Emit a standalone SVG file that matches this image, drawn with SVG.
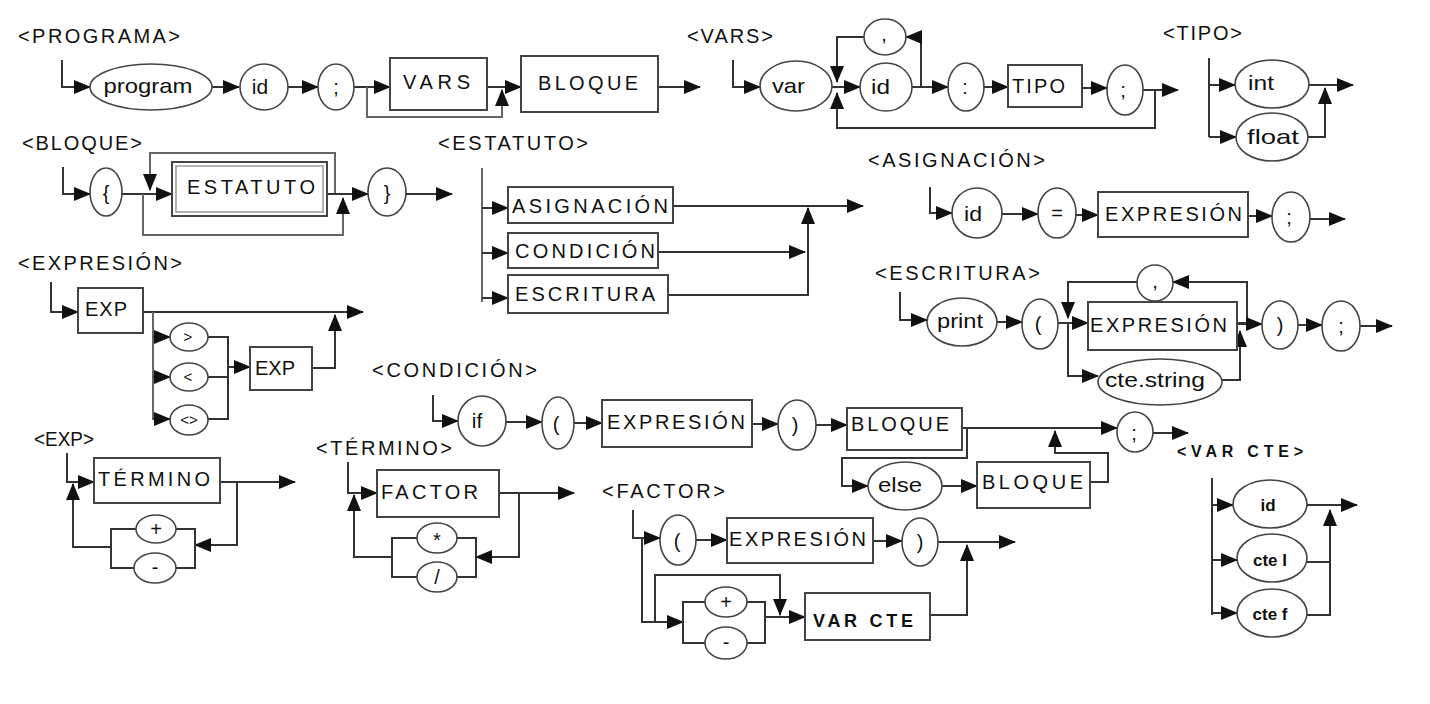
<svg xmlns="http://www.w3.org/2000/svg" width="1430" height="704" viewBox="0 0 1430 704">
<style>
.l{fill:none;stroke:#333;stroke-width:2}
.a{marker-end:url(#ah)}
ellipse{fill:#fff;stroke:#444;stroke-width:1.6}
rect{fill:#fff;stroke:#444;stroke-width:2}
rect.in{fill:none;stroke:#999;stroke-width:1.5}
text{font-family:"Liberation Sans",Arial,sans-serif;font-size:20px;fill:#111}
.m{text-anchor:middle}
.s{font-size:15px}
.b{font-weight:bold;font-size:16px}
.w{font-size:21px}
</style>
<defs>
<marker id="ah" viewBox="0 0 17 14" refX="16" refY="7" markerWidth="17" markerHeight="14" markerUnits="userSpaceOnUse" orient="auto"><path d="M0,0 L17,7 L0,14 z" fill="#111"/></marker>
</defs>
<rect x="0" y="0" width="1430" height="704" style="fill:#fff;stroke:none"/>

<g id="titles">
<text x="18" y="43" textLength="162">&lt;PROGRAMA&gt;</text>
<text x="687" y="43" textLength="86">&lt;VARS&gt;</text>
<text x="1163" y="40" textLength="79">&lt;TIPO&gt;</text>
<text x="22" y="150" textLength="120">&lt;BLOQUE&gt;</text>
<text x="438" y="150" textLength="150">&lt;ESTATUTO&gt;</text>
<text x="868" y="167" textLength="177">&lt;ASIGNACIÓN&gt;</text>
<text x="875" y="280" textLength="165">&lt;ESCRITURA&gt;</text>
<text x="18" y="270" textLength="164">&lt;EXPRESIÓN&gt;</text>
<text x="372" y="377" textLength="165">&lt;CONDICIÓN&gt;</text>
<text x="34" y="446" textLength="60" lengthAdjust="spacingAndGlyphs">&lt;EXP&gt;</text>
<text x="316" y="455" textLength="136">&lt;TÉRMINO&gt;</text>
<text x="602" y="498" textLength="123">&lt;FACTOR&gt;</text>
<text x="1177" y="457" textLength="126" class="b">&lt;VAR CTE&gt;</text>
</g>

<g id="connectors">
<!-- PROGRAMA -->
<path class="l a" d="M62,60 V87 H90"/>
<path class="l a" d="M212,87 H239"/>
<path class="l a" d="M288,87 H318"/>
<path class="l a" d="M354,87 H390"/>
<path class="l a" d="M367,87 V117 H502 V90" style="stroke:#666"/>
<path class="l a" d="M487,87 H521"/>
<path class="l a" d="M658,87 H700"/>
<!-- VARS -->
<path class="l a" d="M733,60 V87 H760"/>
<path class="l a" d="M832,87 H860"/>
<path class="l a" d="M912,87 H921 V37 H906"/>
<path class="l a" d="M864,37 H837 V82"/>
<path class="l a" d="M912,87 H948"/>
<path class="l a" d="M984,87 H1008"/>
<path class="l a" d="M1082,88 H1107"/>
<path class="l a" d="M1143,90 H1178"/>
<path class="l a" d="M1155,90 V128 H837 V93"/>
<!-- TIPO -->
<path class="l" d="M1209,58 V137"/>
<path class="l a" d="M1209,85 H1235"/>
<path class="l a" d="M1209,137 H1236"/>
<path class="l a" d="M1309,85 H1353"/>
<path class="l a" d="M1308,137 H1325 V88"/>
<!-- BLOQUE -->
<path class="l a" d="M63,167 V194 H90"/>
<path class="l a" d="M122,194 H172"/>
<path class="l a" d="M327,194 H335 V153 H150 V190" style="stroke:#666"/>
<path class="l a" d="M143,194 V235 H343 V198" style="stroke:#666"/>
<path class="l a" d="M327,194 H368"/>
<path class="l a" d="M406,194 H452"/>
<!-- ESTATUTO -->
<path class="l" d="M482,168 V302" style="stroke:#666"/>
<path class="l a" d="M482,208 H508"/>
<path class="l a" d="M482,253 H508"/>
<path class="l a" d="M482,298 H508"/>
<path class="l a" d="M673,206 H863"/>
<path class="l a" d="M658,252 H805"/>
<path class="l a" d="M668,295 H808 V208"/>
<!-- ASIGNACION -->
<path class="l a" d="M930,187 V213 H952"/>
<path class="l a" d="M1002,214 H1038"/>
<path class="l a" d="M1076,215 H1098"/>
<path class="l a" d="M1248,216 H1272"/>
<path class="l a" d="M1310,219 H1345"/>
<!-- ESCRITURA -->
<path class="l a" d="M900,292 V320 H927"/>
<path class="l a" d="M997,322 H1022"/>
<path class="l a" d="M1058,323 H1088"/>
<path class="l a" d="M1237,323 H1247 V282 H1173"/>
<path class="l a" d="M1137,282 H1068 V318"/>
<path class="l a" d="M1068,323 V376 H1098"/>
<path class="l a" d="M1222,380 H1240 V331"/>
<path class="l a" d="M1237,324 H1262"/>
<path class="l a" d="M1298,325 H1322"/>
<path class="l a" d="M1360,326 H1392"/>
<!-- EXPRESION -->
<path class="l a" d="M51,282 V312 H78"/>
<path class="l a" d="M143,312 H363"/>
<path class="l" d="M153,312 V420" style="stroke:#666"/>
<path class="l a" d="M153,337 H170"/>
<path class="l a" d="M153,377 H170"/>
<path class="l a" d="M153,419 H170"/>
<path class="l" d="M208,337 H228 V419 H208 M208,377 H228"/>
<path class="l a" d="M228,367 H250"/>
<path class="l a" d="M312,368 H335 V315"/>
<!-- CONDICION -->
<path class="l a" d="M433,395 V421 H458"/>
<path class="l a" d="M506,422 H542"/>
<path class="l a" d="M574,423 H602"/>
<path class="l a" d="M752,424 H778"/>
<path class="l a" d="M816,425 H847"/>
<path class="l a" d="M962,428 H1117"/>
<path class="l a" d="M967,428 V458 H842 V486 H868"/>
<path class="l a" d="M942,486 H977"/>
<path class="l a" d="M1090,482 H1108 V453 H1055 V431"/>
<path class="l a" d="M1153,433 H1188"/>
<!-- EXP -->
<path class="l a" d="M67,453 V482 H94"/>
<path class="l a" d="M220,482 H295"/>
<path class="l a" d="M237,482 V545 H195"/>
<path class="l" d="M176,529 H195 V568 H176"/>
<path class="l" d="M136,529 H111 V568 H134"/>
<path class="l a" d="M111,547 H73 V484"/>
<!-- TERMINO -->
<path class="l a" d="M348,462 V493 H377"/>
<path class="l a" d="M499,493 H574"/>
<path class="l a" d="M519,493 V557 H476"/>
<path class="l" d="M457,538 H476 V577 H457"/>
<path class="l" d="M417,538 H392 V577 H417"/>
<path class="l a" d="M392,557 H354 V495"/>
<!-- FACTOR -->
<path class="l a" d="M633,510 V538 H660"/>
<path class="l a" d="M642,538 V622 H683"/>
<path class="l a" d="M696,540 H727"/>
<path class="l a" d="M873,541 H902"/>
<path class="l a" d="M938,542 H1015"/>
<path class="l a" d="M930,615 H967 V545"/>
<path class="l" d="M705,602 H683 V643 H705"/>
<path class="l" d="M747,602 H765 V643 H747"/>
<path class="l a" d="M765,617 H805"/>
<path class="l a" d="M655,622 V575 H780 V615"/>
<!-- VAR CTE -->
<path class="l" d="M1212,478 V615"/>
<path class="l a" d="M1212,505 H1233"/>
<path class="l a" d="M1212,560 H1237"/>
<path class="l a" d="M1212,613 H1237"/>
<path class="l a" d="M1307,505 H1357"/>
<path class="l" d="M1307,562 H1330"/>
<path class="l a" d="M1307,615 H1330 V510"/>
</g>

<!-- PROGRAMA nodes -->
<g id="p-program"><ellipse cx="151" cy="87" rx="61" ry="23"/><text class="m w" x="148" y="93" textLength="89" lengthAdjust="spacingAndGlyphs">program</text></g>
<g id="p-id"><ellipse cx="264" cy="87" rx="24" ry="23"/><text class="m w" x="260" y="94">id</text></g>
<g id="p-semi"><ellipse cx="336" cy="87" rx="18" ry="23"/><text class="m" x="336" y="94">;</text></g>
<g id="p-vars"><rect x="390" y="58" width="97" height="52"/><text x="403" y="89" textLength="67">VARS</text></g>
<g id="p-bloque"><rect x="521" y="56" width="137" height="56"/><text x="538" y="90" textLength="100">BLOQUE</text></g>

<!-- VARS nodes -->
<g id="v-var"><ellipse cx="796" cy="86" rx="36" ry="25"/><text class="w" x="772" y="93" textLength="33" lengthAdjust="spacingAndGlyphs">var</text></g>
<g id="v-id"><ellipse cx="886" cy="87" rx="26" ry="24"/><text class="w" x="871" y="94" textLength="19" lengthAdjust="spacingAndGlyphs">id</text></g>
<g id="v-comma"><ellipse cx="885" cy="37" rx="21" ry="18"/><text class="m" x="884" y="41">,</text></g>
<g id="v-colon"><ellipse cx="966" cy="87" rx="18" ry="24"/><text class="m" x="965" y="94">:</text></g>
<g id="v-tipo"><rect x="1008" y="65" width="74" height="42"/><text x="1012" y="93" textLength="53">TIPO</text></g>
<g id="v-semi"><ellipse cx="1125" cy="90" rx="18" ry="25"/><text class="m" x="1123" y="97">;</text></g>

<!-- TIPO nodes -->
<g id="t-int"><ellipse cx="1272" cy="84" rx="37" ry="24"/><text class="w" x="1248" y="90" textLength="26" lengthAdjust="spacingAndGlyphs">int</text></g>
<g id="t-float"><ellipse cx="1272" cy="137" rx="36" ry="24"/><text class="w" x="1247" y="144" textLength="52" lengthAdjust="spacingAndGlyphs">float</text></g>

<!-- BLOQUE nodes -->
<g id="b-lbrace"><ellipse cx="106" cy="192" rx="16" ry="24"/><text class="m" x="106" y="200">{</text></g>
<g id="b-estatuto"><rect x="172" y="162" width="155" height="54"/><rect class="in" x="176" y="166" width="147" height="46"/><text x="187" y="194" textLength="128">ESTATUTO</text></g>
<g id="b-rbrace"><ellipse cx="387" cy="192" rx="19" ry="24"/><text class="m" x="387" y="200">}</text></g>

<!-- ESTATUTO nodes -->
<g id="e-asig"><rect x="508" y="187" width="165" height="36"/><text x="512" y="213" textLength="156">ASIGNACIÓN</text></g>
<g id="e-cond"><rect x="508" y="233" width="150" height="35"/><text x="515" y="258" textLength="140">CONDICIÓN</text></g>
<g id="e-escr"><rect x="508" y="275" width="160" height="38"/><text x="515" y="301" textLength="140">ESCRITURA</text></g>

<!-- ASIGNACION nodes -->
<g id="a-id"><ellipse cx="977" cy="213" rx="25" ry="25"/><text class="w" x="964" y="221" textLength="18" lengthAdjust="spacingAndGlyphs">id</text></g>
<g id="a-eq"><ellipse cx="1057" cy="213" rx="19" ry="25"/><text class="m" x="1057" y="220">=</text></g>
<g id="a-expr"><rect x="1098" y="192" width="150" height="45"/><text x="1105" y="221" textLength="137">EXPRESIÓN</text></g>
<g id="a-semi"><ellipse cx="1291" cy="217" rx="19" ry="25"/><text class="m" x="1289" y="224">;</text></g>

<!-- ESCRITURA nodes -->
<g id="w-print"><ellipse cx="962" cy="322" rx="35" ry="24"/><text class="w" x="937" y="328" textLength="46" lengthAdjust="spacingAndGlyphs">print</text></g>
<g id="w-lpar"><ellipse cx="1040" cy="324" rx="18" ry="25"/><text class="m" x="1038" y="331">(</text></g>
<g id="w-comma"><ellipse cx="1155" cy="283" rx="18" ry="18"/><text class="m" x="1155" y="288">,</text></g>
<g id="w-expr"><rect x="1088" y="302" width="149" height="48"/><text x="1090" y="332" textLength="137">EXPRESIÓN</text></g>
<g id="w-ctestring"><ellipse cx="1160" cy="382" rx="62" ry="23"/><text class="w" x="1105" y="387" textLength="100" lengthAdjust="spacingAndGlyphs">cte.string</text></g>
<g id="w-rpar"><ellipse cx="1280" cy="325" rx="18" ry="24"/><text class="m" x="1280" y="332">)</text></g>
<g id="w-semi"><ellipse cx="1341" cy="326" rx="19" ry="25"/><text class="m" x="1341" y="333">;</text></g>

<!-- EXPRESION nodes -->
<g id="x-exp1"><rect x="78" y="288" width="65" height="45"/><text x="85" y="316" textLength="42">EXP</text></g>
<g id="x-gt"><ellipse cx="189" cy="337" rx="19" ry="14"/><text class="m s" x="188" y="342">&gt;</text></g>
<g id="x-lt"><ellipse cx="189" cy="377" rx="19" ry="14"/><text class="m s" x="188" y="382">&lt;</text></g>
<g id="x-ne"><ellipse cx="189" cy="420" rx="19" ry="15"/><text class="m s" x="189" y="425">&lt;&gt;</text></g>
<g id="x-exp2"><rect x="250" y="347" width="62" height="43"/><text x="255" y="375" textLength="40">EXP</text></g>

<!-- CONDICION nodes -->
<g id="c-if"><ellipse cx="482" cy="421" rx="24" ry="25"/><text class="m w" x="477" y="428">if</text></g>
<g id="c-lpar"><ellipse cx="558" cy="423" rx="16" ry="26"/><text class="m" x="556" y="431">(</text></g>
<g id="c-expr"><rect x="602" y="400" width="150" height="47"/><text x="607" y="429" textLength="138">EXPRESIÓN</text></g>
<g id="c-rpar"><ellipse cx="797" cy="425" rx="19" ry="25"/><text class="m" x="795" y="432">)</text></g>
<g id="c-bloque1"><rect x="847" y="408" width="115" height="42"/><text x="851" y="431" textLength="98">BLOQUE</text></g>
<g id="c-else"><ellipse cx="905" cy="486" rx="37" ry="24"/><text class="w" x="878" y="492" textLength="44" lengthAdjust="spacingAndGlyphs">else</text></g>
<g id="c-bloque2"><rect x="977" y="462" width="113" height="46"/><text x="982" y="489" textLength="101">BLOQUE</text></g>
<g id="c-semi"><ellipse cx="1135" cy="432" rx="18" ry="20"/><text class="m" x="1134" y="440">;</text></g>

<!-- EXP nodes -->
<g id="ex-termino"><rect x="94" y="458" width="126" height="45"/><text x="98" y="486" textLength="112">TÉRMINO</text></g>
<g id="ex-plus"><ellipse cx="156" cy="529" rx="20" ry="14"/><text class="m" x="156" y="536">+</text></g>
<g id="ex-minus"><ellipse cx="155" cy="568" rx="21" ry="15"/><text class="m" x="155" y="574">-</text></g>

<!-- TERMINO nodes -->
<g id="tm-factor"><rect x="377" y="470" width="122" height="47"/><text x="381" y="499" textLength="97">FACTOR</text></g>
<g id="tm-mul"><ellipse cx="437" cy="538" rx="20" ry="15"/><text class="m" x="437" y="547">*</text></g>
<g id="tm-div"><ellipse cx="437" cy="577" rx="20" ry="15"/><text class="m" x="437" y="584">/</text></g>

<!-- FACTOR nodes -->
<g id="f-lpar"><ellipse cx="678" cy="540" rx="18" ry="25"/><text class="m" x="677" y="548">(</text></g>
<g id="f-expr"><rect x="727" y="518" width="146" height="45"/><text x="729" y="546" textLength="137">EXPRESIÓN</text></g>
<g id="f-rpar"><ellipse cx="920" cy="542" rx="18" ry="24"/><text class="m" x="920" y="549">)</text></g>
<g id="f-plus"><ellipse cx="726" cy="602" rx="21" ry="15"/><text class="m" x="726" y="609">+</text></g>
<g id="f-minus"><ellipse cx="726" cy="643" rx="21" ry="16"/><text class="m" x="726" y="649">-</text></g>
<g id="f-varcte"><rect x="805" y="593" width="125" height="47"/><text x="813" y="627" textLength="100" style="font-weight:bold;font-size:18px">VAR CTE</text></g>

<!-- VAR CTE nodes -->
<g id="vc-id"><ellipse cx="1270" cy="504" rx="37" ry="24"/><text class="m b" x="1268" y="511" style="font-size:17px">id</text></g>
<g id="vc-ctei"><ellipse cx="1272" cy="558" rx="35" ry="24"/><text class="m b" x="1270" y="566" style="font-size:17px">cte I</text></g>
<g id="vc-ctef"><ellipse cx="1272" cy="613" rx="35" ry="24"/><text class="m b" x="1270" y="620" style="font-size:17px">cte f</text></g>
</svg>
